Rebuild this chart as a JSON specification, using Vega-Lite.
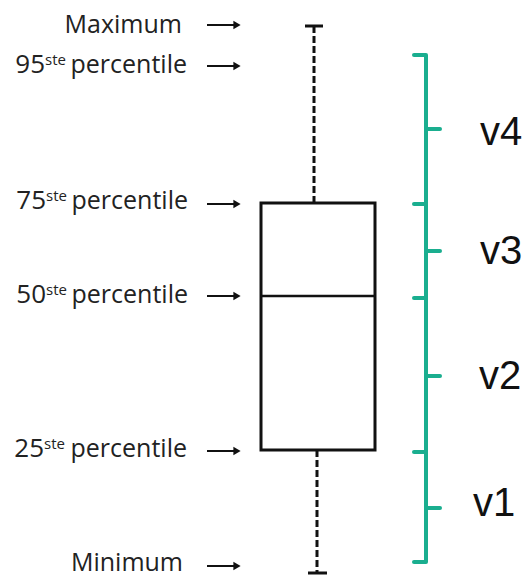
{
  "$schema": "https://vega.github.io/schema/vega-lite/v6.json",
  "width": 529,
  "height": 575,
  "padding": 0,
  "autosize": {"type": "none"},
  "background": "white",
  "config": {"view": {"stroke": null}},
  "datasets": {
    "ends": [
      {"t": "Maximum", "x": 182, "y": 550},
      {"t": "Minimum", "x": 183, "y": 12}
    ],
    "pct": [
      {"num": "95", "sup": "ste", "word": "percentile", "xn": 45, "xs": 45, "xw": 187, "y": 510},
      {"num": "75", "sup": "ste", "word": "percentile", "xn": 46, "xs": 46, "xw": 188, "y": 374},
      {"num": "50", "sup": "ste", "word": "percentile", "xn": 46, "xs": 46, "xw": 188, "y": 280},
      {"num": "25", "sup": "ste", "word": "percentile", "xn": 44, "xs": 44, "xw": 187, "y": 126}
    ],
    "arrows": [
      {"x": 207, "x2": 237, "y": 550},
      {"x": 207, "x2": 237, "y": 509},
      {"x": 207, "x2": 237, "y": 371},
      {"x": 207, "x2": 237, "y": 279},
      {"x": 207, "x2": 237, "y": 124},
      {"x": 207, "x2": 237, "y": 9}
    ],
    "whiskers": [
      {"x": 314, "y": 549, "y2": 372},
      {"x": 317, "y": 125, "y2": 2}
    ],
    "caps": [
      {"x": 305, "x2": 323, "y": 549},
      {"x": 308, "x2": 327, "y": 2}
    ],
    "box": [
      {"x": 261, "x2": 375, "y": 372, "y2": 125}
    ],
    "median": [
      {"x": 261, "x2": 375, "y": 279}
    ],
    "bracketV": [
      {"x": 426, "y": 520, "y2": 13}
    ],
    "bracketT": [
      {"x": 414, "x2": 426, "y": 520},
      {"x": 414, "x2": 426, "y": 371},
      {"x": 414, "x2": 426, "y": 277},
      {"x": 414, "x2": 426, "y": 123},
      {"x": 414, "x2": 426, "y": 13},
      {"x": 426, "x2": 440, "y": 446},
      {"x": 426, "x2": 440, "y": 324},
      {"x": 426, "x2": 440, "y": 199},
      {"x": 426, "x2": 440, "y": 67}
    ],
    "vlabels": [
      {"t": "v4", "x": 480, "y": 442},
      {"t": "v3", "x": 480, "y": 323},
      {"t": "v2", "x": 479, "y": 198},
      {"t": "v1", "x": 473, "y": 71}
    ]
  },
  "layer": [
    {
      "data": {"name": "box"},
      "mark": {"type": "rect", "fill": "white", "stroke": "#111", "strokeWidth": 3},
      "encoding": {
        "x": {"field": "x", "type": "quantitative", "scale": {"domain": [0, 529], "nice": false, "zero": false}, "axis": null},
        "x2": {"field": "x2"},
        "y": {"field": "y", "type": "quantitative", "scale": {"domain": [0, 575], "nice": false, "zero": false}, "axis": null},
        "y2": {"field": "y2"}
      }
    },
    {
      "data": {"name": "median"},
      "mark": {"type": "rule", "stroke": "#111", "strokeWidth": 2.5},
      "encoding": {
        "x": {"field": "x", "type": "quantitative"},
        "x2": {"field": "x2"},
        "y": {"field": "y", "type": "quantitative"}
      }
    },
    {
      "data": {"name": "whiskers"},
      "mark": {"type": "rule", "stroke": "#111", "strokeWidth": 3, "strokeDash": [7, 3]},
      "encoding": {
        "x": {"field": "x", "type": "quantitative"},
        "y": {"field": "y", "type": "quantitative"},
        "y2": {"field": "y2"}
      }
    },
    {
      "data": {"name": "caps"},
      "mark": {"type": "rule", "stroke": "#111", "strokeWidth": 3},
      "encoding": {
        "x": {"field": "x", "type": "quantitative"},
        "x2": {"field": "x2"},
        "y": {"field": "y", "type": "quantitative"}
      }
    },
    {
      "data": {"name": "arrows"},
      "mark": {"type": "rule", "stroke": "#111", "strokeWidth": 2},
      "encoding": {
        "x": {"field": "x", "type": "quantitative"},
        "x2": {"field": "x2"},
        "y": {"field": "y", "type": "quantitative"}
      }
    },
    {
      "data": {"name": "arrows"},
      "mark": {"type": "point", "shape": "triangle-right", "filled": true, "color": "#111", "size": 70, "opacity": 1},
      "encoding": {
        "x": {"field": "x2", "type": "quantitative"},
        "y": {"field": "y", "type": "quantitative"}
      }
    },
    {
      "data": {"name": "bracketV"},
      "mark": {"type": "rule", "stroke": "#1aae8f", "strokeWidth": 4},
      "encoding": {
        "x": {"field": "x", "type": "quantitative"},
        "y": {"field": "y", "type": "quantitative"},
        "y2": {"field": "y2"}
      }
    },
    {
      "data": {"name": "bracketT"},
      "mark": {"type": "rule", "stroke": "#1aae8f", "strokeWidth": 4, "strokeCap": "round"},
      "encoding": {
        "x": {"field": "x", "type": "quantitative"},
        "x2": {"field": "x2"},
        "y": {"field": "y", "type": "quantitative"}
      }
    },
    {
      "data": {"name": "vlabels"},
      "mark": {"type": "text", "align": "left", "baseline": "middle", "font": "Liberation Sans", "fontSize": 40, "color": "#111"},
      "encoding": {
        "x": {"field": "x", "type": "quantitative"},
        "y": {"field": "y", "type": "quantitative"},
        "text": {"field": "t"}
      }
    },
    {
      "data": {"name": "ends"},
      "mark": {"type": "text", "align": "right", "baseline": "middle", "font": "Open Sans", "fontSize": 25, "color": "#222"},
      "encoding": {
        "x": {"field": "x", "type": "quantitative"},
        "y": {"field": "y", "type": "quantitative"},
        "text": {"field": "t"}
      }
    },
    {
      "data": {"name": "pct"},
      "mark": {"type": "text", "align": "right", "baseline": "middle", "font": "Open Sans", "fontSize": 26, "color": "#222"},
      "encoding": {
        "x": {"field": "xn", "type": "quantitative"},
        "y": {"field": "y", "type": "quantitative"},
        "text": {"field": "num"}
      }
    },
    {
      "data": {"name": "pct"},
      "mark": {"type": "text", "align": "left", "baseline": "alphabetic", "font": "Open Sans", "fontSize": 15, "dy": 0, "color": "#222"},
      "encoding": {
        "x": {"field": "xs", "type": "quantitative"},
        "y": {"field": "y", "type": "quantitative"},
        "text": {"field": "sup"}
      }
    },
    {
      "data": {"name": "pct"},
      "mark": {"type": "text", "align": "right", "baseline": "middle", "font": "Open Sans", "fontSize": 25, "color": "#222"},
      "encoding": {
        "x": {"field": "xw", "type": "quantitative"},
        "y": {"field": "y", "type": "quantitative"},
        "text": {"field": "word"}
      }
    }
  ]
}
